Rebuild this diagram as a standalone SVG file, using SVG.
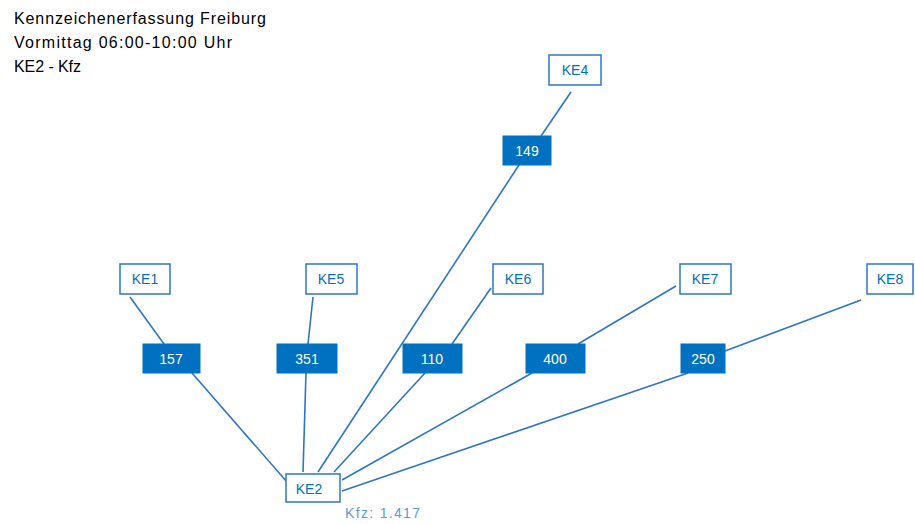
<svg xmlns="http://www.w3.org/2000/svg" width="915" height="524" viewBox="0 0 915 524">
<style>
.t{font-family:"Liberation Sans",Arial,sans-serif;font-size:16px;fill:#000}
.ke rect{fill:#fff;stroke:#2E75C6;stroke-width:1.5}
.ke text{font-family:"Liberation Sans",Arial,sans-serif;font-size:14px;fill:#0070C0;text-anchor:middle;dominant-baseline:central}
.lb rect{fill:#0070C0;stroke:#0070C0}
.lb text{font-family:"Liberation Sans",Arial,sans-serif;font-size:14px;fill:#fff;text-anchor:middle;dominant-baseline:central}
.c line{stroke:#2E75C6;stroke-width:1.6;fill:none}
.tot{font-family:"Liberation Sans",Arial,sans-serif;font-size:14px;fill:#5B9BD5}
</style>
<rect width="915" height="524" fill="#fff"/>
<g id="title">
<text class="t" x="14" y="24" textLength="252" lengthAdjust="spacing">Kennzeichenerfassung Freiburg</text>
<text class="t" x="14" y="48" textLength="218" lengthAdjust="spacing">Vormittag 06:00-10:00 Uhr</text>
<text class="t" x="14" y="72" textLength="67" lengthAdjust="spacing">KE2 - Kfz</text>
</g>
<g id="connectors" class="c">
<line x1="130" y1="297" x2="164" y2="344"/>
<line x1="192" y1="373" x2="287" y2="482"/>
<line x1="313" y1="297" x2="308" y2="344"/>
<line x1="306" y1="373" x2="303" y2="472"/>
<line x1="571" y1="92" x2="541" y2="136"/>
<line x1="519" y1="165" x2="318" y2="472"/>
<line x1="491" y1="288" x2="452" y2="344"/>
<line x1="425" y1="373" x2="334" y2="472"/>
<line x1="676" y1="286" x2="578" y2="344"/>
<line x1="532" y1="373" x2="342" y2="480"/>
<line x1="861" y1="300" x2="725" y2="351"/>
<line x1="688" y1="373" x2="342" y2="491"/>
</g>
<g id="KE4" class="ke"><rect x="549" y="55" width="52" height="30"/><text x="575" y="70">KE4</text></g>
<g id="KE1" class="ke"><rect x="120" y="264" width="50" height="30"/><text x="145" y="279">KE1</text></g>
<g id="KE5" class="ke"><rect x="306" y="264" width="51" height="30"/><text x="331" y="279">KE5</text></g>
<g id="KE6" class="ke"><rect x="493" y="264" width="50" height="30"/><text x="518" y="279">KE6</text></g>
<g id="KE7" class="ke"><rect x="680" y="264" width="51" height="30"/><text x="705" y="279">KE7</text></g>
<g id="KE8" class="ke"><rect x="867" y="264" width="46" height="30"/><text x="890" y="279">KE8</text></g>
<g id="KE2" class="ke"><rect x="286" y="474" width="54" height="28"/><text x="309" y="489">KE2</text></g>
<g id="L149" class="lb"><rect x="503" y="136" width="48" height="29"/><text x="527" y="151">149</text></g>
<g id="L157" class="lb"><rect x="143" y="344" width="57" height="29"/><text x="171" y="359">157</text></g>
<g id="L351" class="lb"><rect x="277" y="344" width="60" height="29"/><text x="307" y="359">351</text></g>
<g id="L110" class="lb"><rect x="403" y="344" width="59" height="29"/><text x="432" y="359">110</text></g>
<g id="L400" class="lb"><rect x="526" y="344" width="59" height="29"/><text x="555" y="359">400</text></g>
<g id="L250" class="lb"><rect x="681" y="344" width="44" height="29"/><text x="703" y="359">250</text></g>
<text id="total" class="tot" x="345" y="518" textLength="75" lengthAdjust="spacing">Kfz: 1.417</text>
</svg>
